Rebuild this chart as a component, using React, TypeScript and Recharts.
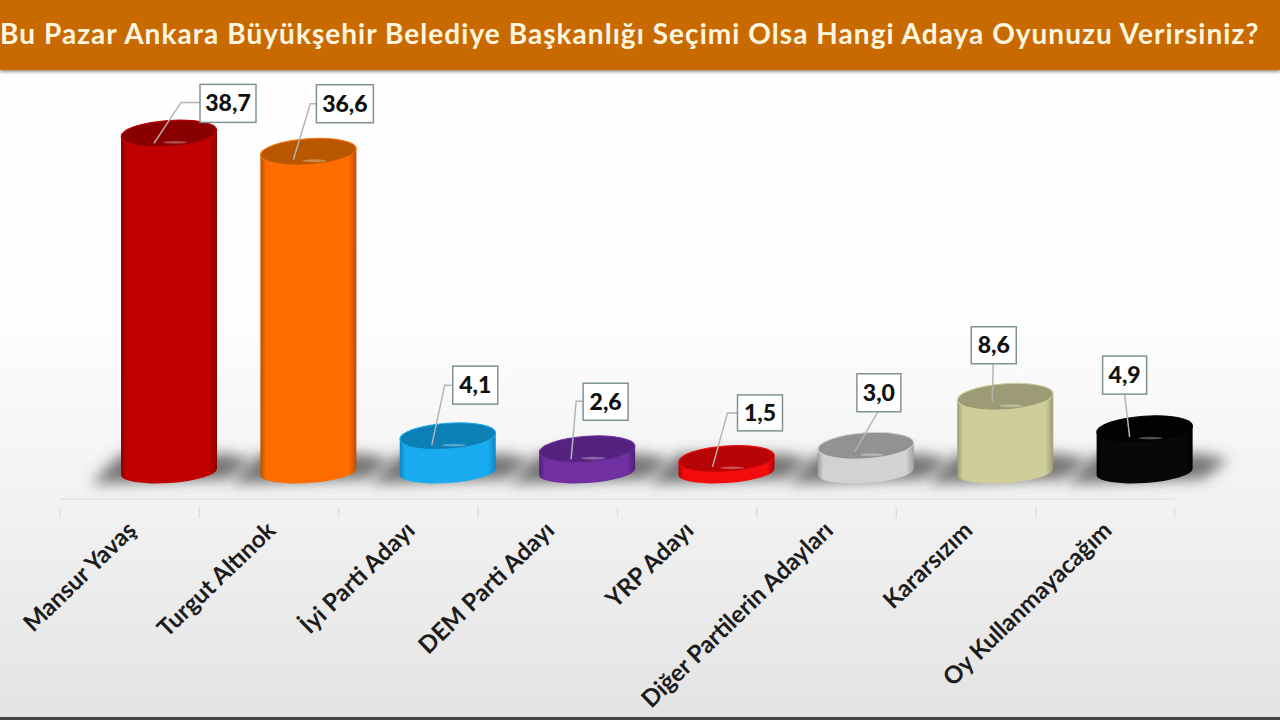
import React from 'react';
import { BarChart, Bar, XAxis, YAxis, LabelList } from 'recharts';

const categories = [
  'Mansur Yavaş',
  'Turgut Altınok',
  'İyi Parti Adayı',
  'DEM Parti Adayı',
  'YRP Adayı',
  'Diğer Partilerin Adayları',
  'Kararsızım',
  'Oy Kullanmayacağım',
];
const values = [38.7, 36.6, 4.1, 2.6, 1.5, 3.0, 8.6, 4.9];

const bodyColors = ['#C00000', '#FF6D00', '#19ABF0', '#7030A0', '#F20C0C', '#D2D2D2', '#CFCE9B', '#080808'];
const edgeColors = ['#8E0000', '#B95000', '#0C86C4', '#4F1F78', '#B80000', '#A0A0A0', '#9C9B6E', '#000000'];
const topColors = ['#8A0000', '#B85700', '#0C80B6', '#55237F', '#B80404', '#929292', '#9C9B76', '#020202'];

// callout layout, relative to the centre of each cylinder's top
const calloutBox = [
  [31, -49, 56, 38],
  [8, -67, 57, 38],
  [5, -70, 45, 38],
  [-4, -66, 45, 37],
  [11, -64, 45, 36],
  [-9, -72, 44, 38],
  [-34, -70, 45, 37],
  [-42, -73, 44, 38],
];
const calloutLine = [
  [-15, 10, 12, -31],
  [-15, 8, 2, -48],
  [-16, 9, -3, -51],
  [-16, 10, -11, -48],
  [-14, 8, 1, -46],
  [-11, 6, 12, -34],
  [-13, 5, -12, -33],
  [-15, 8, -20, -35],
];

const chartData = categories.map((name, i) => ({ name, value: values[i] }));

const SHIFT_X = 39; // the 3D floor sits up and to the right of the axis
const SHIFT_Y = -27;
const RX = 48;
const TILT = 4;
const BAND = 1115 / 8;

const formatValue = (v: number) => v.toFixed(1).replace('.', ',');

const ShadowShape = (props: any) => {
  const { x, y, width, height } = props;
  const cx = x + width / 2 + SHIFT_X;
  const base = y + height + SHIFT_Y;
  const points = [
    [cx - 78, base + 12],
    [cx - 48, base - 18],
    [cx + 58, base - 18],
    [cx + 84, base - 12],
    [cx + 58, base + 7],
  ]
    .map((p) => p.join(','))
    .join(' ');
  return <polygon points={points} fill="#4a4a4a" fillOpacity={0.75} filter="url(#floorShadow)" />;
};

const CylinderShape = (props: any) => {
  const { x, y, width, height, index } = props;
  const cx = x + width / 2 + SHIFT_X;
  const top = y + SHIFT_Y;
  const base = y + height + SHIFT_Y;
  const d = `M${cx - RX},${top + 3.3} L${cx - RX},${base + 3.3} A${RX} 11 ${-TILT} 0 0 ${cx + RX},${base - 3.3} L${cx + RX},${top - 3.3} Z`;
  return (
    <g>
      <path d={d} fill={`url(#body${index})`} />
      <ellipse
        cx={cx}
        cy={top}
        rx={RX}
        ry={13}
        fill={topColors[index]}
        stroke={bodyColors[index]}
        strokeWidth={1}
        transform={`rotate(${-TILT} ${cx} ${top})`}
      />
      <ellipse cx={cx + 6} cy={top + 9} rx={12} ry={1.4} fill="#ffffff" fillOpacity={0.3} />
    </g>
  );
};

const Callout = (props: any) => {
  const { x, y, width, value, index } = props;
  const cx = x + width / 2 + SHIFT_X;
  const top = y + SHIFT_Y;
  const [bx, by, bw, bh] = calloutBox[index];
  const [ax, ay, ex, ey] = calloutLine[index];
  const boxLeft = cx + bx;
  const elbowX = cx + ex;
  const pts = [
    [cx + ax, top + ay],
    [elbowX, top + ey],
  ];
  if (elbowX < boxLeft) pts.push([boxLeft, top + ey]);
  return (
    <g>
      <polyline points={pts.map((p) => p.join(',')).join(' ')} fill="none" stroke="#b4b4b0" strokeWidth={1.5} />
      <rect x={boxLeft} y={top + by} width={bw} height={bh} fill="#ffffff" stroke="#7f9393" strokeWidth={1.5} />
      <text
        x={boxLeft + bw / 2}
        y={top + by + bh / 2 + 8}
        textAnchor="middle"
        fontFamily="Lato"
        fontWeight={900}
        fontSize={23}
        fill="#111"
      >
        {formatValue(value)}
      </text>
    </g>
  );
};

const CategoryTick = (props: any) => {
  const { x, y, payload } = props;
  const ax = x + 8;
  const ay = y + 25;
  return (
    <g>
      <line x1={x - BAND / 2} x2={x - BAND / 2} y1={y} y2={y + 11} stroke="#dcdcdc" />
      <line x1={x + BAND / 2} x2={x + BAND / 2} y1={y} y2={y + 11} stroke="#dcdcdc" />
      <text
        x={ax}
        y={ay}
        textAnchor="end"
        fontFamily="Lato"
        fontWeight={700}
        fontSize={24}
        fill="#1c1c1c"
        transform={`rotate(-44 ${ax} ${ay})`}
      >
        {payload.value}
      </text>
    </g>
  );
};

const YLabel = (props: any) => {
  const { viewBox } = props;
  const lx = viewBox.x + 45;
  const ly = viewBox.y + viewBox.height / 2 + 37;
  return (
    <text
      x={lx}
      y={ly}
      textAnchor="middle"
      fontFamily="Lato"
      fontWeight={700}
      fontSize={16}
      letterSpacing={0.4}
      fill="#1c1c1c"
      style={{ whiteSpace: 'pre' }}
      transform={`rotate(-90 ${lx} ${ly})`}
    >
      Yüzde  %
    </text>
  );
};

export default function App() {
  return (
    <div
      style={{
        position: 'absolute',
        left: 0,
        top: 0,
        width: 1280,
        height: 720,
        overflow: 'hidden',
        background: 'linear-gradient(180deg, #ffffff 0%, #fdfdfd 45%, #f1f1f2 72%, #e3e3e3 100%)',
      }}
    >
      <div
        style={{
          position: 'absolute',
          left: 0,
          top: 0,
          width: 1280,
          height: 70,
          lineHeight: '66px',
          background: '#C96A00',
          boxShadow: '0 2px 3px rgba(90,60,30,0.55)',
          color: '#FFF6E0',
          fontFamily: 'Lato',
          fontWeight: 700,
          fontSize: 28,
          letterSpacing: 1.05,
          whiteSpace: 'nowrap',
        }}
      >
        Bu Pazar Ankara Büyükşehir Belediye Başkanlığı Seçimi Olsa Hangi Adaya Oyunuzu Verirsiniz?
      </div>
      <div style={{ position: 'absolute', left: 0, top: 717, width: 1280, height: 3, background: '#444' }} />
      <div style={{ position: 'absolute', left: 0, top: 0 }}>
        <BarChart
          width={1280}
          height={720}
          data={chartData}
          margin={{ top: 79, right: 105, bottom: 21, left: 60 }}
          barSize={96}
          barGap={-96}
        >
          <defs>
            <filter id="floorShadow" x="-30%" y="-60%" width="160%" height="220%">
              <feGaussianBlur stdDeviation="7" />
            </filter>
            {bodyColors.map((color, i) => (
              <linearGradient key={i} id={`body${i}`} x1="0" y1="0" x2="1" y2="0">
                <stop offset="0%" stopColor={edgeColors[i]} />
                <stop offset="6%" stopColor={color} />
                <stop offset="92%" stopColor={color} />
                <stop offset="100%" stopColor={edgeColors[i]} />
              </linearGradient>
            ))}
          </defs>
          <XAxis
            dataKey="name"
            height={200}
            interval={0}
            axisLine={{ stroke: '#dcdcdc' }}
            tickLine={false}
            tick={<CategoryTick />}
          />
          <YAxis width={0} domain={[0, 48]} tick={false} axisLine={false} tickLine={false} label={<YLabel />} />
          <Bar dataKey="value" isAnimationActive={false} shape={<ShadowShape />} />
          <Bar dataKey="value" isAnimationActive={false} shape={<CylinderShape />}>
            <LabelList dataKey="value" content={<Callout />} />
          </Bar>
        </BarChart>
      </div>
    </div>
  );
}
